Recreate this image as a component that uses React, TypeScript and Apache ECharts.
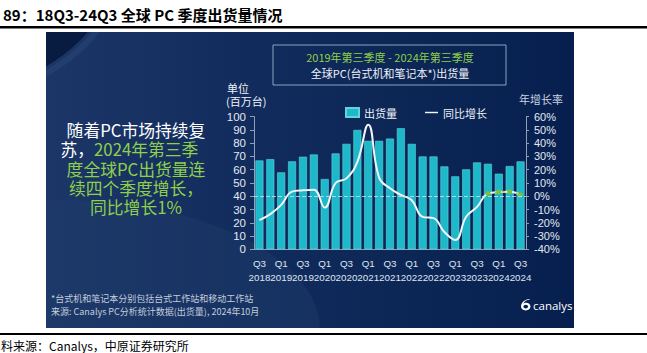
import React, { useEffect, useRef } from 'react';
import * as echarts from 'echarts';

const quarters = ['Q3','Q4','Q1','Q2','Q3','Q4','Q1','Q2','Q3','Q4','Q1','Q2','Q3','Q4','Q1','Q2','Q3','Q4','Q1','Q2','Q3','Q4','Q1','Q2','Q3'];
const years = ['2018','2018','2019','2019','2019','2019','2020','2020','2020','2020','2021','2021','2021','2021','2022','2022','2022','2022','2023','2023','2023','2023','2024','2024','2024'];
const shipments = [67, 68, 58, 66.3, 69.8, 71.5, 53, 72.3, 79.5, 90, 81.8, 81.8, 83.5, 91.3, 79.5, 70, 70, 62.5, 55, 60.3, 65.5, 64.5, 57, 62.8, 66.3];
const yoyGrowth = [-18, -13.5, -6.5, 3.5, 4.5, 5, -8.5, 10, 13.5, 26, 54, 14, 6, 1, -3, -15.5, -16.5, -27, -33, -15.5, -8, 2, 3.2, 3.4, 1];
const highlightFrom = 21;

const WHITE = '#eef2f7';
const GREEN = '#8fcf4a';

const logoPath = 'M9,0 C4,0 0,4 0,8 C0,10.5 2,12 5,12 C8,12 10,10.5 10,8 C10,5.5 8,4 5.5,4 C4,4 3,4.6 2.5,5 C3.5,2 6,0.8 9,0.8 Z M5,6 C6.5,6 7.5,7 7.5,8 C7.5,9 6.5,10 5,10 C3.5,10 2.5,9 2.5,8 C2.5,7 3.5,6 5,6 Z';
echarts.graphic.registerShape('logo', echarts.graphic.extendPath(logoPath, {}));

export default function App() {
  const ref = useRef<HTMLDivElement>(null);
  useEffect(() => {
    if (!ref.current) return;
    const chart = echarts.init(ref.current, undefined, { renderer: 'svg' });
    const categories = quarters.map((q, i) => q + '\n' + years[i]);
    const highlight = yoyGrowth.map((v, i) => (i >= highlightFrom ? v : null));
    const cjk = "'Noto Sans CJK SC', 'Noto Sans', sans-serif";
    const num = "'Liberation Sans', Roboto, sans-serif";
    const panelX = 46, panelY = 32, panelW = 528, panelH = 296;
    const stmtX = 136, stmtY = 130, stmtLH = 19.3, stmtFS = 16.8;
    const stmtText = (x: number, y: number, text: string, fill: string, align: string) => ({
      type: 'text', x, y,
      style: { text, fill, fontSize: stmtFS, lineHeight: 19, fontFamily: cjk, textAlign: align, textVerticalAlign: 'middle' },
    });
    chart.setOption({
      animation: false,
      backgroundColor: '#ffffff',
      textStyle: { fontFamily: cjk },
      graphic: [
        // panel background
        {
          type: 'rect', shape: { x: panelX, y: panelY, width: panelW, height: panelH },
          style: {
            fill: new echarts.graphic.LinearGradient(0, 0, 1, 0, [
              { offset: 0, color: '#1c3767' },
              { offset: 0.4, color: '#112c5c' },
              { offset: 1, color: '#061f4f' },
            ]),
          },
        },
        { type: 'ellipse', shape: { cx: 60, cy: 330, rx: 260, ry: 130 }, style: { fill: '#1f3b6b', opacity: 0.45 } },
        { type: 'circle', shape: { cx: -40, cy: -80, r: 170 }, style: { fill: '#081b40' } },
        { type: 'circle', shape: { cx: -40, cy: -80, r: 176 }, style: { fill: 'none', stroke: '#2c4676', lineWidth: 6, opacity: 0.5 } },
        // masks outside panel
        { type: 'rect', shape: { x: 0, y: 0, width: panelX, height: 353 }, style: { fill: '#ffffff' } },
        { type: 'rect', shape: { x: 0, y: 0, width: 647, height: panelY }, style: { fill: '#ffffff' } },
        { type: 'rect', shape: { x: panelX + panelW, y: 0, width: 647 - panelX - panelW, height: 353 }, style: { fill: '#ffffff' } },
        { type: 'rect', shape: { x: 0, y: panelY + panelH, width: 647, height: 353 - panelY - panelH }, style: { fill: '#ffffff' } },
        // header / footer
        { type: 'text', x: 3, y: 14, style: { text: '89：18Q3-24Q3 全球 PC 季度出货量情况', fill: '#000', fontSize: 15, fontWeight: 'bold', fontFamily: cjk, textVerticalAlign: 'middle' } },
        { type: 'rect', shape: { x: 0, y: 26, width: 647, height: 2.5 }, style: { fill: '#000' } },
        { type: 'rect', shape: { x: 0, y: 333, width: 647, height: 2 }, style: { fill: '#000' } },
        { type: 'text', x: 1, y: 345, style: { text: '料来源：Canalys，中原证券研究所', fill: '#000', fontSize: 12, fontFamily: cjk, textVerticalAlign: 'middle' } },
        // title box
        { type: 'rect', shape: { x: 273, y: 45, width: 233, height: 40 }, style: { fill: 'none', stroke: '#8aa2c2', lineWidth: 1 } },
        { type: 'text', x: 390, y: 57, style: { text: '2019年第三季度 - 2024年第三季度', fill: GREEN, fontSize: 11, fontFamily: cjk, textAlign: 'center', textVerticalAlign: 'middle' } },
        { type: 'text', x: 390, y: 73, style: { text: '全球PC(台式机和笔记本*)出货量', fill: WHITE, fontSize: 11, fontFamily: cjk, textAlign: 'center', textVerticalAlign: 'middle' } },
        // left statement
        stmtText(stmtX, stmtY, '随着PC市场持续复', '#ffffff', 'center'),
        stmtText(94, stmtY + stmtLH, '苏，', '#ffffff', 'right'),
        stmtText(94, stmtY + stmtLH, '2024年第三季', GREEN, 'left'),
        stmtText(stmtX, stmtY + stmtLH * 2, '度全球PC出货量连', GREEN, 'center'),
        stmtText(stmtX, stmtY + stmtLH * 3, '续四个季度增长，', GREEN, 'center'),
        stmtText(stmtX, stmtY + stmtLH * 4, '同比增长1%', GREEN, 'center'),
        // axis names
        { type: 'text', x: 227, y: 88, style: { text: '单位', fill: WHITE, fontSize: 11, fontFamily: cjk, textVerticalAlign: 'middle' } },
        { type: 'text', x: 226, y: 101, style: { text: '(百万台)', fill: WHITE, fontSize: 11, fontFamily: cjk, textVerticalAlign: 'middle' } },
        { type: 'text', x: 519, y: 99, style: { text: '年增长率', fill: '#c9d2e0', fontSize: 11, fontFamily: cjk, textVerticalAlign: 'middle' } },
        // footnote
        { type: 'text', x: 51, y: 298, style: { text: '*台式机和笔记本分别包括台式工作站和移动工作站', fill: '#c3cddc', fontSize: 9, fontFamily: cjk, textVerticalAlign: 'middle' } },
        { type: 'text', x: 51, y: 311, style: { text: '来源: Canalys PC分析统计数据(出货量), 2024年10月', fill: '#c3cddc', fontSize: 9, fontFamily: cjk, textVerticalAlign: 'middle' } },
        // logo
        { type: 'logo', x: 521, y: 299, scaleX: 0.95, scaleY: 0.95, style: { fill: '#ffffff' } },
        { type: 'text', x: 533, y: 305, style: { text: 'canalys', fill: '#ffffff', fontSize: 11.5, fontFamily: "'Open Sans', 'Noto Sans', sans-serif", textVerticalAlign: 'middle' } },
      ],
      legend: {
        left: 340, top: 102, itemGap: 28, itemWidth: 13, itemHeight: 9,
        data: [
          { name: '出货量', icon: 'rect' },
          { name: '同比增长', icon: 'path://M0,0 L18,0 L18,2 L0,2 Z', itemStyle: { color: '#f2f5f9' } },
        ],
        textStyle: { color: WHITE, fontSize: 11, fontFamily: cjk },
      },
      grid: { left: 254, right: 121, top: 116.7, bottom: 103.7, containLabel: false },
      xAxis: {
        type: 'category', data: categories, boundaryGap: true,
        axisLine: { lineStyle: { color: '#8e9fba', width: 1 } },
        axisTick: { show: false },
        axisLabel: {
          interval: 1, hideOverlap: false, showMinLabel: true, showMaxLabel: true,
          color: '#dfe6f0', fontSize: 9.8, lineHeight: 14, margin: 7, fontFamily: num,
        },
      },
      yAxis: [
        {
          type: 'value', min: 0, max: 100, interval: 10,
          axisLine: { show: true, lineStyle: { color: '#8e9fba' } },
          axisTick: { show: true, length: 4, lineStyle: { color: '#8e9fba' } },
          splitLine: { show: false },
          axisLabel: { color: '#e3e9f2', fontSize: 11.5, margin: 8, fontFamily: num },
        },
        {
          type: 'value', min: -40, max: 60, interval: 10, position: 'right',
          axisLine: { show: true, lineStyle: { color: '#8e9fba' } },
          axisTick: { show: true, length: 3, lineStyle: { color: '#8e9fba' } },
          splitLine: { show: false },
          axisLabel: { color: '#e3e9f2', fontSize: 11, margin: 8, formatter: '{value}%', fontFamily: num },
        },
      ],
      series: [
        {
          name: '出货量', type: 'bar', data: shipments, barWidth: 8,
          itemStyle: { color: '#1db8ca', borderColor: '#63d3df', borderWidth: 0.6 },
        },
        {
          name: '同比增长', type: 'line', yAxisIndex: 1, data: yoyGrowth, smooth: 0.45,
          symbol: 'none', showSymbol: false,
          lineStyle: { color: '#f2f5f9', width: 2 }, itemStyle: { color: '#f2f5f9' },
          markLine: {
            silent: true, symbol: ['none', 'none'], label: { show: false },
            lineStyle: { color: '#d5deea', type: 'dashed', width: 1, opacity: 0.8 },
            data: [{ yAxis: 0 }],
          },
          z: 3,
        },
        {
          name: '增长标记', type: 'line', yAxisIndex: 1, data: highlight, smooth: 0.45,
          symbol: 'circle', symbolSize: 5, showSymbol: true,
          lineStyle: { color: GREEN, width: 1.5, type: [3, 4] }, itemStyle: { color: '#7fbf3a' },
          z: 4,
        },
      ],
    });
    return () => chart.dispose();
  }, []);
  return <div ref={ref} style={{ position: 'fixed', left: 0, top: 0, width: 647, height: 353 }} />;
}
